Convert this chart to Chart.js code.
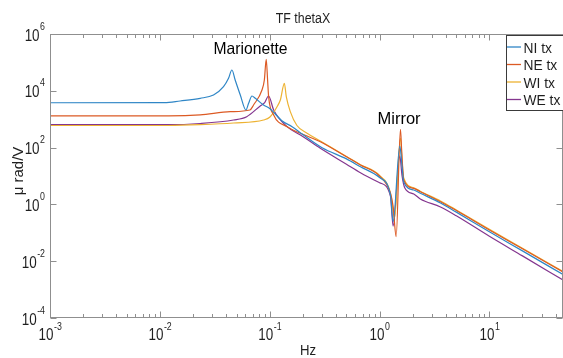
<!DOCTYPE html>
<html>
<head>
<meta charset="utf-8">
<title>TF thetaX</title>
<script src="https://cdn.jsdelivr.net/npm/chart.js@4.4.1/dist/chart.umd.min.js"></script>
<style>
  html, body { margin: 0; padding: 0; background: #fff; }
  #wrap { width: 563px; height: 358px; }
</style>
</head>
<body>
<div id="wrap"><canvas id="tfChart" width="563" height="358"></canvas></div>
<script>
// Valores (Hz -> micro rad / V)
const freqNI = [0.001, 0.011, 0.0153, 0.0233, 0.0308, 0.038, 0.0422, 0.0453, 0.0485, 0.054, 0.0608, 0.0643, 0.069, 0.074, 0.0879, 0.1, 0.13, 0.16, 0.2, 0.3, 0.5, 0.67, 1.0, 1.257, 1.33, 1.53, 1.6, 1.66, 2.05, 2.35, 3.59, 5, 10, 20, 46.8];
const magNI  = [3800, 3810, 4380, 5440, 7110, 13900, 27500, 54000, 24000, 7110, 2110, 3630, 6560, 5440, 3160, 2380, 865, 545, 289, 99, 40, 21.2, 8.85, 2.14, 0.245, 114, 24, 6.2, 3.21, 2.46, 1.12, 0.535, 0.109, 0.0231, 0.0034];

const freqNE = [0.001, 0.012, 0.0233, 0.0438, 0.0661, 0.0713, 0.0851, 0.0894, 0.093, 0.0957, 0.0978, 0.1087, 0.144, 0.219, 0.289, 0.5, 0.67, 1.0, 1.257, 1.33, 1.417, 1.55, 1.59, 1.66, 2.05, 2.35, 3.59, 5, 10, 20, 46.8];
const magNE  = [1300, 1300, 1410, 1840, 2110, 3160, 10700, 24000, 128000, 24000, 6200, 1410, 545, 256, 161, 47.4, 24.4, 10, 2.46, 0.83, 0.073, 441, 82, 7.2, 3.69, 2.8, 1.24, 0.605, 0.126, 0.0274, 0.00417];

const freqWI = [0.001, 0.012, 0.0233, 0.0469, 0.0879, 0.1, 0.1167, 0.125, 0.136, 0.1416, 0.154, 0.177, 0.219, 0.289, 0.5, 0.67, 1.0, 1.257, 1.37, 1.55, 1.6, 1.66, 2.05, 2.35, 3.59, 5, 10, 20, 46.8];
const magWI  = [600, 600, 640, 735, 940, 1170, 2750, 4740, 18400, 6200, 1840, 600, 320, 170, 49, 25, 10.4, 2.51, 0.33, 218, 36.5, 8.5, 3.85, 2.89, 1.32, 0.64, 0.133, 0.0287, 0.00434];

const freqWE = [0.001, 0.012, 0.0233, 0.0469, 0.0618, 0.082, 0.09, 0.0977, 0.1087, 0.144, 0.2, 0.289, 0.5, 0.67, 1.0, 1.257, 1.33, 1.53, 1.6, 1.7, 2.05, 2.35, 3.59, 5, 10, 20, 46.8];
const magWE  = [640, 640, 706, 938, 1225, 2920, 3800, 6560, 2110, 545, 246, 94.4, 26, 13.1, 5.8, 1.98, 0.173, 51, 10.8, 3.78, 2.32, 1.55, 0.81, 0.397, 0.0754, 0.0154, 0.00218];

const seriesLabels = ['NI tx', 'NE tx', 'WI tx', 'WE tx'];
const seriesColors = ['#2f86c6', '#dc5a24', '#edb232', '#84368f'];

const xTicks = [1e-3, 1e-2, 1e-1, 1e0, 1e1];
const xTickExp = ['-3', '-2', '-1', '0', '1'];
const yTicks = [1e-4, 1e-2, 1e0, 1e2, 1e4, 1e6];
const yTickExp = ['-4', '-2', '0', '2', '4', '6'];

const xMin = 1e-3, xMax = 46.8;
const yMin = 1e-4, yMax = 1e6;

const axisColor = '#8f8f8f';
const textColor = '#1f1f1f';
const fontFam = '"Liberation Sans", Arial, Helvetica, sans-serif';

function toPoints(freqs, mags) {
    return freqs.map((f, i) => ({ x: f, y: mags[i] }));
}

// Texto con escala horizontal (las fuentes del original son estrechas)
function drawText(ctx, str, x, y, size, align, sx) {
    ctx.save();
    ctx.translate(x, y);
    ctx.scale(sx, 1);
    ctx.font = size + 'px ' + fontFam;
    ctx.textAlign = align;
    ctx.textBaseline = 'alphabetic';
    ctx.fillText(str, 0, 0);
    ctx.restore();
}

function textWidth(ctx, str, size, sx) {
    ctx.save();
    ctx.font = size + 'px ' + fontFam;
    const w = ctx.measureText(str).width * sx;
    ctx.restore();
    return w;
}

function line(ctx, x1, y1, x2, y2) {
    ctx.beginPath();
    ctx.moveTo(x1, y1);
    ctx.lineTo(x2, y2);
    ctx.stroke();
}

// Ejes estilo MATLAB, etiquetas, titulo, leyenda y anotaciones
const matlabFrame = {
    id: 'matlabFrame',
    afterDraw(chart) {
        const { ctx, chartArea: a } = chart;
        const xs = chart.scales.x;
        const ys = chart.scales.y;
        const left = a.left + 0.5, right = a.right - 0.5;
        const top = a.top + 0.5, bottom = a.bottom - 0.5;

        ctx.save();
        ctx.strokeStyle = axisColor;
        ctx.lineWidth = 1;
        ctx.strokeRect(left, top, right - left, bottom - top);

        // marcas eje x (mayores y menores), abajo y arriba
        xTicks.forEach(major => {
            for (let m = 1; m < 10; m++) {
                const v = m * major;
                if (v < xMin || v > xMax) continue;
                const px = Math.round(xs.getPixelForValue(v)) + 0.5;
                const len = m === 1 ? 6 : 3.5;
                line(ctx, px, bottom, px, bottom - len);
                line(ctx, px, top, px, top + len);
            }
        });
        // marcas eje y
        yTicks.forEach(v => {
            const py = Math.round(ys.getPixelForValue(v)) + 0.5;
            line(ctx, left, py, left + 6, py);
            line(ctx, right, py, right - 6, py);
        });

        ctx.fillStyle = textColor;
        const baseSize = 16, expSize = 10.5, sq = 0.84;

        // etiquetas eje x
        xTicks.forEach((v, i) => {
            const px = xs.getPixelForValue(v);
            const w10 = textWidth(ctx, '10', baseSize, sq);
            const wExp = textWidth(ctx, xTickExp[i], expSize, sq);
            const x0 = px - (w10 + wExp) / 2;
            drawText(ctx, '10', x0, a.bottom + 22, baseSize, 'left', sq);
            drawText(ctx, xTickExp[i], x0 + w10 + 0.5, a.bottom + 11.5, expSize, 'left', sq);
        });
        // etiquetas eje y
        yTicks.forEach((v, i) => {
            const py = ys.getPixelForValue(v);
            const wExp = textWidth(ctx, yTickExp[i], expSize, sq);
            const xr = a.left - 5;
            drawText(ctx, yTickExp[i], xr, py - 4.5, expSize, 'right', sq);
            drawText(ctx, '10', xr - wExp - 0.5, py + 6.5, baseSize, 'right', sq);
        });

        // titulo y nombres de ejes
        drawText(ctx, 'TF thetaX', 303, 23, 15.5, 'center', 0.8);
        drawText(ctx, 'Hz', 308, 355, 15.5, 'center', 0.85);
        ctx.save();
        ctx.translate(19, 171);
        ctx.rotate(-Math.PI / 2);
        ctx.font = '15px ' + fontFam;
        ctx.textAlign = 'center';
        ctx.textBaseline = 'middle';
        ctx.fillText('\u03bc rad/V', 0, 0);
        ctx.restore();

        // anotaciones
        ctx.fillStyle = '#000';
        drawText(ctx, 'Marionette', 213.5, 54, 16.5, 'left', 0.95);
        drawText(ctx, 'Mirror', 377.5, 124, 16.5, 'left', 1);

        // leyenda
        const lx = 506.5, ly = 35.5, lw = 60, lh = 75;
        ctx.fillStyle = '#fff';
        ctx.fillRect(lx, ly, lw, lh);
        ctx.strokeStyle = '#3a3a3a';
        ctx.strokeRect(lx, ly, lw, lh);
        chart.data.datasets.forEach((ds, i) => {
            const cy = 47 + i * 17.5;
            ctx.strokeStyle = ds.borderColor;
            ctx.lineWidth = 1.3;
            line(ctx, 507, cy, 521, cy);
            ctx.fillStyle = textColor;
            drawText(ctx, ds.label, 523.5, cy + 5.5, 15, 'left', 0.92);
        });
        ctx.restore();
    }
};

const datasets = [
    toPoints(freqNI, magNI),
    toPoints(freqNE, magNE),
    toPoints(freqWI, magWI),
    toPoints(freqWE, magWE)
].map((pts, i) => ({
    label: seriesLabels[i],
    data: pts,
    borderColor: seriesColors[i],
    backgroundColor: seriesColors[i],
    borderWidth: 1.2,
    pointRadius: 0,
    cubicInterpolationMode: 'monotone',
    fill: false
}));

const ctxTF = document.getElementById('tfChart').getContext('2d');
new Chart(ctxTF, {
    type: 'line',
    data: { datasets: datasets },
    options: {
        responsive: false,
        devicePixelRatio: 1,
        animation: false,
        layout: { padding: { left: 50, top: 34, right: 0, bottom: 40 } },
        plugins: {
            legend: { display: false },
            title: { display: false },
            tooltip: { enabled: false }
        },
        scales: {
            x: { type: 'logarithmic', min: xMin, max: xMax, display: false },
            y: { type: 'logarithmic', min: yMin, max: yMax, display: false }
        }
    },
    plugins: [matlabFrame]
});
</script>
</body>
</html>
